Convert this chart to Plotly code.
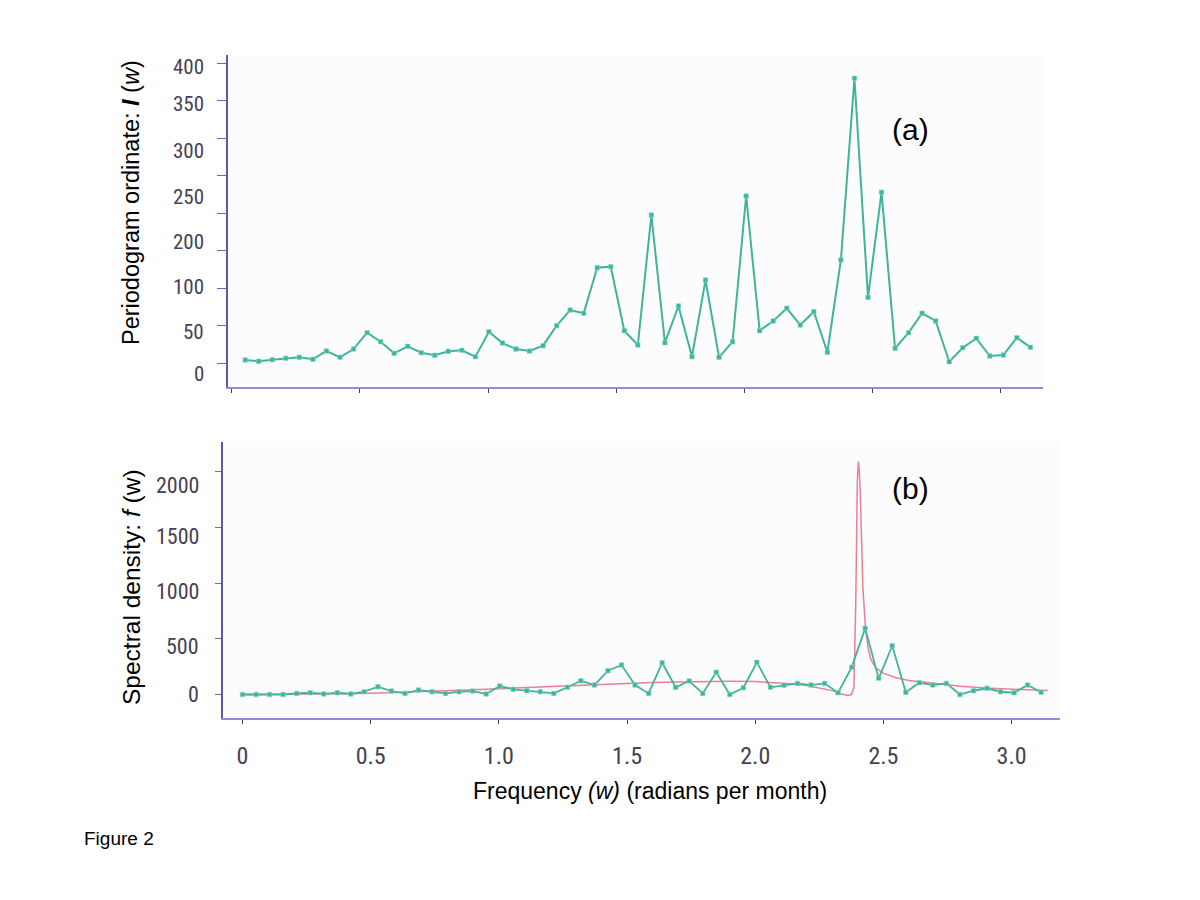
import plotly.graph_objects as go

# ---------------- data ----------------
# Panel (a): periodogram ordinates at Fourier frequencies (radians per month)
top_freq = [0.0528, 0.1056, 0.1584, 0.2112, 0.2640, 0.3168, 0.3696, 0.4224, 0.4752, 0.5280,
            0.5808, 0.6336, 0.6864, 0.7392, 0.7920, 0.8448, 0.8976, 0.9504, 1.0032, 1.0560,
            1.1088, 1.1616, 1.2144, 1.2672, 1.3200, 1.3728, 1.4256, 1.4784, 1.5312, 1.5840,
            1.6368, 1.6896, 1.7424, 1.7952, 1.8480, 1.9008, 1.9536, 2.0064, 2.0592, 2.1120,
            2.1648, 2.2176, 2.2704, 2.3232, 2.3760, 2.4288, 2.4816, 2.5344, 2.5872, 2.6400,
            2.6928, 2.7456, 2.7984, 2.8512, 2.9040, 2.9568, 3.0096, 3.0624, 3.1152]
top_I = [4.4, 2.7, 4.8, 6.7, 8, 5.3, 16.4, 8, 19, 40.8,
         28.8, 13.3, 22.7, 14.1, 10.7, 16, 17.3, 8.8, 42.1, 27,
         19, 16.4, 23.5, 50.1, 71, 66.7, 127.5, 128.8, 43.5, 24.4,
         197.7, 27.5, 76.4, 8.8, 111, 8, 28.8, 223, 43.5, 56.4,
         73.3, 51, 68.8, 14.7, 137.7, 380, 88, 228, 20, 40.8,
         66.7, 56.4, 2.1, 20.8, 33.3, 9.7, 11, 34.1, 21.3]

# Panel (b): sample spectral density (green) and fitted spectral density (red)
bot_freq = [0.0] + top_freq
bot_f = [0, 0, 0, 0, 10, 16, 5, 16, 5, 25, 70, 31, 10, 40, 25, 10, 25, 31, 5, 76,
         47, 34, 25, 10, 65, 124, 85, 214, 265, 85, 10, 285, 65, 121, 10, 199, 0, 61, 289, 65,
         83, 100, 85, 100, 16, 244, 594, 145, 438, 20, 106, 85, 100, 0, 34, 56, 25, 16, 85, 20]

red_freq = [0, 0.1, 0.2, 0.3, 0.4, 0.5, 0.6, 0.7, 0.8, 0.9, 1.0, 1.1, 1.2, 1.3, 1.4, 1.5,
            1.6, 1.7, 1.8, 1.9, 2.0, 2.1, 2.15, 2.2, 2.25, 2.3, 2.33, 2.36, 2.375, 2.385,
            2.392, 2.398, 2.402, 2.406, 2.41, 2.415, 2.42, 2.43, 2.44, 2.45, 2.47, 2.5,
            2.55, 2.6, 2.7, 2.8, 2.9, 3.0, 3.1, 3.1416]
red_f = [0, 1, 3, 5, 8, 12, 18, 25, 33, 42, 52, 62, 72, 82, 92, 100,
         107, 113, 117, 119, 117, 105, 95, 80, 60, 35, 10, -8, 0, 60,
         800, 1900, 2090, 2010, 1800, 1350, 950, 600, 420, 320, 240, 190,
         150, 125, 100, 75, 58, 47, 38, 35]

top_ytick_vals = [0, 50, 100, 150, 200, 250, 300, 350, 400]
top_label_text = ["0", "50", "100", "200", "250", "300", "350", "400"]
top_label_pos = [-14.3, 42.1, 102.1, 162.1, 222.1, 283.5, 345.7, 395.5]
bot_ytick_vals = [0, 500, 1000, 1500, 2000]
bot_label_text = ["0", "500", "1000", "1500", "2000"]
bot_label_pos = [-4, 429, 923, 1417, 1880]
x_tick_vals = [0, 0.5, 1.0, 1.5, 2.0, 2.5, 3.0]
x_tick_text = ["0", "0.5", "1.0", "1.5", "2.0", "2.5", "3.0"]

# ---------------- styling ----------------
GREEN = "#3fb49b"
RED = "#e8627a"
NARROW = ("Liberation Sans Narrow, Arial Narrow, Roboto Condensed, Noto Sans Condensed, "
          "DejaVu Sans Condensed, sans-serif")
SANS = "Liberation Sans, Arial, sans-serif"
LABEL_COL = "#46424f"

W, H = 1200, 900
OFF = 8  # page body margin compensation


def px(x):
    return (x - OFF) / W


def py(y):
    return 1 - (y - OFF) / H


fig = go.Figure()

fig.add_trace(go.Scatter(
    x=top_freq, y=top_I, mode="lines+markers", xaxis="x", yaxis="y",
    line=dict(color=GREEN, width=2),
    marker=dict(symbol="square", size=4.5, color=GREEN, line=dict(color="#8ad8c6", width=0.6)),
    showlegend=False, hoverinfo="skip"))

fig.add_trace(go.Scatter(
    x=red_freq, y=red_f, mode="lines", xaxis="x2", yaxis="y2",
    line=dict(color=RED, width=1.5), opacity=0.8,
    showlegend=False, hoverinfo="skip"))

fig.add_trace(go.Scatter(
    x=bot_freq, y=bot_f, mode="lines+markers", xaxis="x2", yaxis="y2",
    line=dict(color=GREEN, width=1.8),
    marker=dict(symbol="square", size=4.5, color=GREEN, line=dict(color="#8ad8c6", width=0.6)),
    showlegend=False, hoverinfo="skip"))

top_x_dom = [px(227.7), px(1043.3)]
top_y_dom = [py(387.3), py(55)]
bot_x_dom = [px(223.3), px(1060)]
bot_y_dom = [py(717.7), py(441.7)]

axis_common = dict(showgrid=False, zeroline=False, showline=True, mirror=False)

fig.update_layout(
    width=W, height=H,
    margin=dict(l=0, r=0, t=0, b=0),
    paper_bgcolor="white", plot_bgcolor="#fcfcfc",
    xaxis=dict(domain=top_x_dom, range=[-0.0156, 3.1654], anchor="y",
               tickvals=x_tick_vals, showticklabels=False, ticks="outside",
               ticklen=4, tickwidth=1, tickcolor="#3a3a70",
               linecolor="#8c8cd8", linewidth=2, **axis_common),
    yaxis=dict(domain=top_y_dom, range=[-32, 411], anchor="x",
               tickvals=top_ytick_vals, showticklabels=False, ticks="outside",
               ticklen=9, tickwidth=1.2, tickcolor="#6a6ab4",
               linecolor="#5a5aaa", linewidth=2, **axis_common),
    xaxis2=dict(domain=bot_x_dom, range=[-0.0749, 3.1888], anchor="y2",
                tickvals=x_tick_vals, ticktext=x_tick_text, ticks="outside",
                ticklen=4, tickwidth=1, tickcolor="#3a3a70",
                ticklabelstandoff=11,
                tickfont=dict(family=NARROW, size=24, color=LABEL_COL),
                linecolor="#8c8cd8", linewidth=2, **axis_common),
    yaxis2=dict(domain=bot_y_dom, range=[-208, 2269], anchor="x2",
                tickvals=bot_ytick_vals, showticklabels=False, ticks="outside",
                ticklen=6, tickwidth=1.2, tickcolor="#6a6ab4",
                linecolor="#5a5aaa", linewidth=2, **axis_common),
)

ann = []
for t, v in zip(top_label_text, top_label_pos):
    ann.append(dict(x=0, xref="x domain", y=v, yref="y", text=t, showarrow=False,
                    xanchor="right", yanchor="middle", xshift=-22,
                    font=dict(family=NARROW, size=21, color=LABEL_COL)))
for t, v in zip(bot_label_text, bot_label_pos):
    ann.append(dict(x=0, xref="x2 domain", y=v, yref="y2", text=t, showarrow=False,
                    xanchor="right", yanchor="middle", xshift=-22,
                    font=dict(family=NARROW, size=22, color=LABEL_COL)))

ann += [
    dict(x=px(131), y=py(202), xref="paper", yref="paper", showarrow=False,
         text="Periodogram ordinate: <b><i>I</i></b> (<i>w</i>)", textangle=-90,
         xanchor="center", yanchor="middle", font=dict(family=SANS, size=23.5, color="black")),
    dict(x=px(131), y=py(587), xref="paper", yref="paper", showarrow=False,
         text="Spectral density: <i>f</i> (w)", textangle=-90,
         xanchor="center", yanchor="middle", font=dict(family=SANS, size=24.5, color="black")),
    dict(x=px(650), y=py(791), xref="paper", yref="paper", showarrow=False,
         text="Frequency <i>(w)</i> (radians per month)",
         xanchor="center", yanchor="middle", font=dict(family=SANS, size=23, color="black")),
    dict(x=px(911), y=py(129), xref="paper", yref="paper", showarrow=False,
         text="(a)", xanchor="center", yanchor="middle",
         font=dict(family=SANS, size=30, color="black")),
    dict(x=px(911), y=py(488), xref="paper", yref="paper", showarrow=False,
         text="(b)", xanchor="center", yanchor="middle",
         font=dict(family=SANS, size=30, color="black")),
    dict(x=px(82), y=py(838), xref="paper", yref="paper", showarrow=False,
         text="Figure 2", xanchor="left", yanchor="middle",
         font=dict(family=SANS, size=19, color="black")),
]
fig.update_layout(annotations=ann)

fig.write_html("out.html")
